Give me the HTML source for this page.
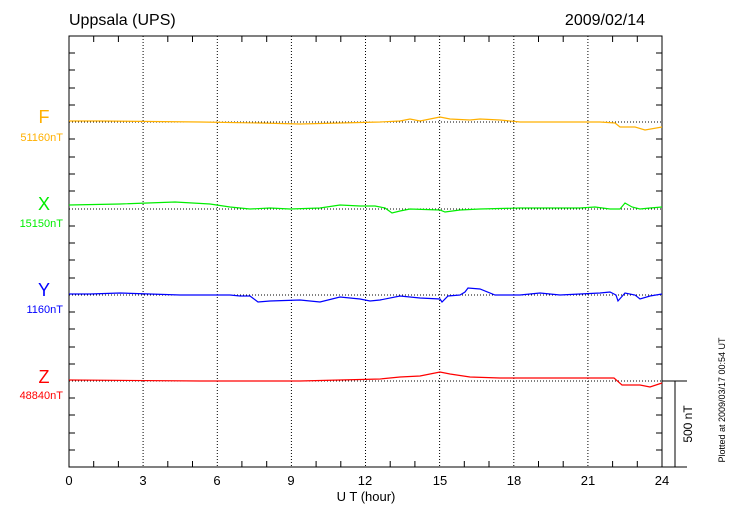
<!DOCTYPE html>
<html><head><meta charset="utf-8"><style>
body{margin:0;background:#fff}
svg{display:block;font-family:"Liberation Sans",sans-serif}
</style></head><body>
<svg width="730" height="520" viewBox="0 0 730 520">
<rect width="730" height="520" fill="#fff"/>
<text x="69" y="25" font-size="16">Uppsala (UPS)</text>
<text x="645" y="25" font-size="16" text-anchor="end">2009/02/14</text>
<g stroke="#000" stroke-width="1" stroke-dasharray="1,2" fill="none">
<line x1="143.1" y1="36" x2="143.1" y2="467"/><line x1="217.3" y1="36" x2="217.3" y2="467"/>
<line x1="291.4" y1="36" x2="291.4" y2="467"/><line x1="365.5" y1="36" x2="365.5" y2="467"/>
<line x1="439.6" y1="36" x2="439.6" y2="467"/><line x1="513.8" y1="36" x2="513.8" y2="467"/>
<line x1="587.9" y1="36" x2="587.9" y2="467"/>
<line x1="69" y1="122" x2="662" y2="122"/><line x1="69" y1="209" x2="662" y2="209"/>
<line x1="69" y1="295" x2="662" y2="295"/><line x1="69" y1="381" x2="662" y2="381"/>
</g>
<rect x="69" y="36" width="593" height="431" fill="none" stroke="#000"/>
<g stroke="#000" id="t">
<path d="M69 53h6M69 70h6M69 88h6M69 105h6M69 139h6M69 157h6M69 174h6M69 191h6M69 226h6M69 243h6M69 260h6M69 278h6M69 312h6M69 329h6M69 347h6M69 364h6M69 398h6M69 415h6M69 433h6M69 450h6"/>
<path d="M662 53h-6M662 70h-6M662 88h-6M662 105h-6M662 139h-6M662 157h-6M662 174h-6M662 191h-6M662 226h-6M662 243h-6M662 260h-6M662 278h-6M662 312h-6M662 329h-6M662 347h-6M662 364h-6M662 398h-6M662 415h-6M662 433h-6M662 450h-6"/>
<path d="M93.7 467v-6M118.4 467v-6M167.8 467v-6M192.5 467v-6M241.9 467v-6M266.7 467v-6M316.1 467v-6M340.8 467v-6M390.2 467v-6M414.9 467v-6M464.3 467v-6M489 467v-6M538.5 467v-6M563.2 467v-6M612.6 467v-6M637.3 467v-6"/>
<path d="M93.7 36v6M118.4 36v6M167.8 36v6M192.5 36v6M241.9 36v6M266.7 36v6M316.1 36v6M340.8 36v6M390.2 36v6M414.9 36v6M464.3 36v6M489 36v6M538.5 36v6M563.2 36v6M612.6 36v6M637.3 36v6"/>
<path d="M662 381h25M662 467h25M675 381v86"/>
</g>
<g font-size="13" text-anchor="middle">
<text x="69" y="485">0</text><text x="143" y="485">3</text><text x="217" y="485">6</text><text x="291" y="485">9</text><text x="365" y="485">12</text><text x="440" y="485">15</text><text x="514" y="485">18</text><text x="588" y="485">21</text><text x="662" y="485">24</text>
<text x="366" y="501">U T (hour)</text>
</g>
<text transform="translate(692,424) rotate(-90)" font-size="12" text-anchor="middle">500 nT</text>
<text transform="translate(725,400) rotate(-90)" font-size="9" text-anchor="middle">Plotted at 2009/03/17 00:54 UT</text>
<g font-size="18" text-anchor="middle">
<text x="44" y="123" fill="#ffb000">F</text><text x="44" y="210" fill="#00ee00">X</text>
<text x="44" y="296" fill="#0000ff">Y</text><text x="44" y="383" fill="#ff0000">Z</text>
</g>
<g font-size="11" text-anchor="end">
<text x="63" y="141" fill="#ffb000">51160nT</text><text x="63" y="227" fill="#00ee00">15150nT</text>
<text x="63" y="313" fill="#0000ff">1160nT</text><text x="63" y="399" fill="#ff0000">48840nT</text>
</g>
<g fill="none" stroke-width="1.2">
<polyline stroke="#ffb000" points="69,121 100,121 200,122 260,123 300,124 340,123 380,122 400,121 410,119 420,121 430,119 440,117 450,119 470,120 480,119 500,120 520,122 600,122 615,123 620,127 635,127 645,130 662,127"/>
<polyline stroke="#00ee00" points="69,205 120,204 175,202 210,204 230,207 250,209 270,208 290,209 320,208 340,205 360,206 375,206 385,208 392,213 400,211 410,209 440,210 445,212 460,210 480,209 520,208 580,208 595,207 610,209 620,209 625,203 632,207 640,209 650,208 662,207"/>
<polyline stroke="#0000ff" points="69,294 90,294 120,293 180,295 230,295 240,296 250,296 258,302 270,301 300,300 320,302 340,297 360,299 370,301 380,300 400,296 420,298 440,299 442,302 448,296 460,295 465,292 468,288 480,289 495,295 520,295 540,293 560,295 600,293 610,292 616,295 618,301 625,293 635,295 640,299 650,296 662,294"/>
<polyline stroke="#ff0000" points="69,380 200,381 300,381 380,379 400,377 420,376 440,372 450,374 470,377 500,378 520,378 600,378 614,378 622,385 640,385 650,387 662,383"/>
</g>
</svg>
</body></html>
